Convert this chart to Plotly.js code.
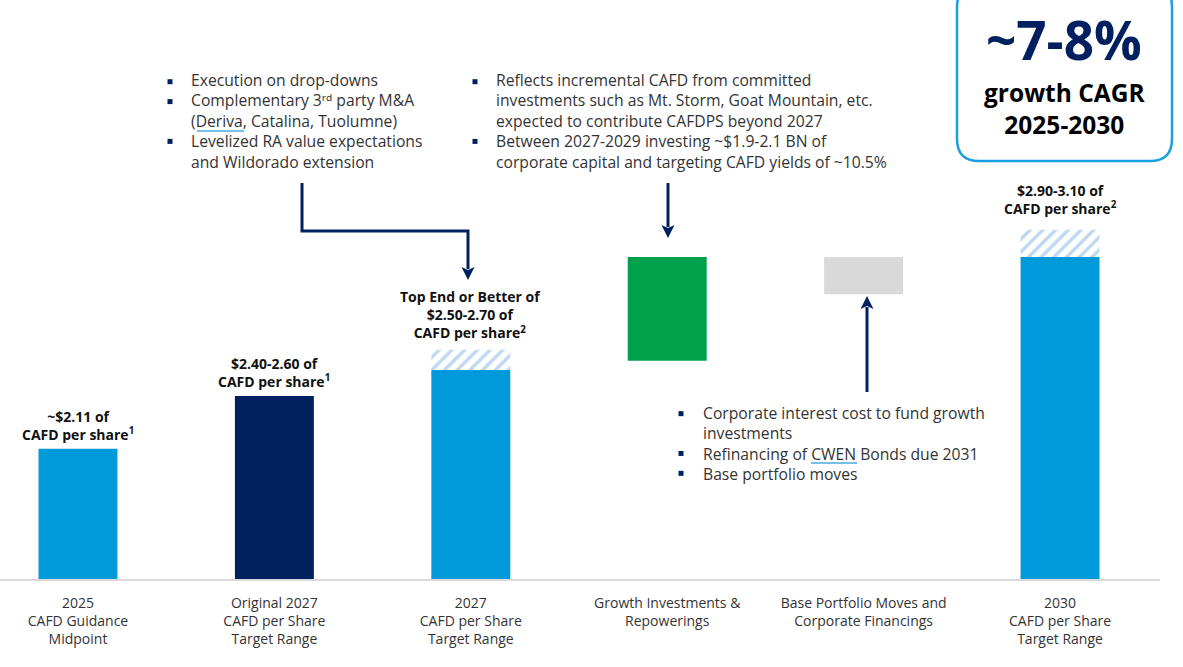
<!DOCTYPE html>
<html><head><meta charset="utf-8">
<script src="https://cdn.plot.ly/plotly-3.0.1.min.js"></script>
<style>html,body{margin:0;padding:0;background:#fff}#chart{width:1183px;height:667px}</style>
</head><body><div id="chart"></div>
<script>
// ---------- data (relative visual heights; the slide is not drawn to scale) ----------
const categories = [
  '2025<br>CAFD Guidance<br>Midpoint',
  'Original 2027<br>CAFD per Share<br>Target Range',
  '2027<br>CAFD per Share<br>Target Range',
  'Growth Investments &amp;<br>Repowerings',
  'Base Portfolio Moves and<br>Corporate Financings',
  '2030<br>CAFD per Share<br>Target Range'
];
const barBase   = [0, 0, 0, 3.77, 4.92, 0];
const barTop    = [2.25, 3.16, 3.61, 5.56, 5.56, 5.56];
const upsideTop = [null, null, 3.96, null, null, 6.03];
const barColors = ['#0099DA', '#00205E', '#0099DA', '#00A14B', '#D9D9D9', '#0099DA'];
const barLabels = [
  '~$2.11 of<br>CAFD per share<sup>1</sup>',
  '$2.40-2.60 of<br>CAFD per share<sup>1</sup>',
  'Top End or Better of<br>$2.50-2.70 of<br>CAFD per share<sup>2</sup>',
  '',
  '',
  '$2.90-3.10 of<br>CAFD per share<sup>2</sup>'
];
const dropDownNotes = [
  ['Execution on drop-downs'],
  ['Complementary 3ʳᵈ party M&amp;A', '(Deriva, Catalina, Tuolumne)'],
  ['Levelized RA value expectations', 'and Wildorado extension']
];
const growthNotes = [
  ['Reflects incremental CAFD from committed', 'investments such as Mt. Storm, Goat Mountain, etc.', 'expected to contribute CAFDPS beyond 2027'],
  ['Between 2027-2029 investing ~$1.9-2.1 BN of', 'corporate capital and targeting CAFD yields of ~10.5%']
];
const financingNotes = [
  ['Corporate interest cost to fund growth', 'investments'],
  ['Refinancing of CWEN Bonds due 2031'],
  ['Base portfolio moves']
];
const cagrHeadline = '~7-8%';
const cagrText = 'growth CAGR<br>2025-2030';

// ---------- layout helpers ----------
const W = 1183, H = 667, ML = 0, MR = 23, MT = 0, MB = 88;
const PW = W - ML - MR, PH = H - MT - MB;
const px = v => v / PW;
const py = v => 1 - v / PH;
const P = (a, b) => px(a) + ',' + py(b);
const FONT = 'Open Sans, Noto Sans, sans-serif';
const NAVY = '#002060';
const idx = categories.map((_, i) => i);

const traces = [
  {
    type: 'bar', x: idx, y: barTop.map((t, i) => t - barBase[i]), base: barBase,
    width: 0.402, marker: { color: barColors, line: { width: 0 } }, hoverinfo: 'skip'
  },
  {
    type: 'bar',
    x: idx.filter(i => upsideTop[i] !== null),
    y: idx.filter(i => upsideTop[i] !== null).map(i => upsideTop[i] - barTop[i]),
    base: idx.filter(i => upsideTop[i] !== null).map(i => barTop[i]),
    width: 0.402,
    marker: { color: '#BFD8F2', line: { width: 0 },
      pattern: { shape: '/', size: 9, solidity: 0.38, bgcolor: '#ffffff', fgcolor: '#BFD8F2' } },
    hoverinfo: 'skip'
  }
];

const annotations = [];
const shapes = [];
const NOTE_SIZE = 15.7, NOTE_LH = 19.9;
function addBlock(items, bulletX, textX, midY) {
  const lines = [], starts = [];
  items.forEach(ls => ls.forEach((l, j) => { if (j === 0) starts.push(lines.length); lines.push(l); }));
  annotations.push({ xref: 'paper', yref: 'paper', x: px(textX), y: py(midY), xanchor: 'left', yanchor: 'middle',
    align: 'left', text: lines.join('<br>'), showarrow: false, font: { family: FONT, size: NOTE_SIZE, color: '#333333' } });
  const n = lines.length;
  starts.forEach(k => {
    const cy = midY + (k - (n - 1) / 2) * NOTE_LH;
    shapes.push({ type: 'rect', xref: 'paper', yref: 'paper', x0: px(bulletX - 2.5), x1: px(bulletX + 2.5),
      y0: py(cy - 2), y1: py(cy + 3), fillcolor: NAVY, line: { width: 0 } });
  });
}
addBlock(dropDownNotes, 170, 189, 121);
addBlock(growthNotes, 475, 494, 121);
addBlock(financingNotes, 681, 701, 443);

// bar labels
const labelShift = [3, 3, 6, 0, 0, 10];
barLabels.forEach((t, i) => {
  if (!t) return;
  annotations.push({ x: i, y: upsideTop[i] !== null ? upsideTop[i] : barTop[i], xref: 'x', yref: 'y',
    yanchor: 'bottom', xanchor: 'center', yshift: labelShift[i], text: t, showarrow: false, align: 'center',
    font: { family: FONT, size: 14, color: '#111111', weight: 'bold' } });
});

// CAGR box text
annotations.push({ xref: 'paper', yref: 'paper', x: px(1064), y: py(40), xanchor: 'center', yanchor: 'middle',
  text: cagrHeadline, showarrow: false, font: { family: FONT, size: 53, color: NAVY, weight: 'bold' } });
annotations.push({ xref: 'paper', yref: 'paper', x: px(1064), y: py(108), xanchor: 'center', yanchor: 'middle',
  text: cagrText, showarrow: false, align: 'center', font: { family: FONT, size: 24.5, color: '#000000', weight: 'bold' } });

// box path with rounded corners
const bx0 = 957, bx1 = 1172, by0 = -15, by1 = 161, r = 22;
const boxPath = 'M' + P(bx0 + r, by0) + ' L' + P(bx1 - r, by0) + ' Q' + P(bx1, by0) + ' ' + P(bx1, by0 + r) +
  ' L' + P(bx1, by1 - r) + ' Q' + P(bx1, by1) + ' ' + P(bx1 - r, by1) +
  ' L' + P(bx0 + r, by1) + ' Q' + P(bx0, by1) + ' ' + P(bx0, by1 - r) +
  ' L' + P(bx0, by0 + r) + ' Q' + P(bx0, by0) + ' ' + P(bx0 + r, by0) + ' Z';
shapes.push({ type: 'path', xref: 'paper', yref: 'paper', path: boxPath, line: { color: '#1B9FE0', width: 2.5 }, fillcolor: 'rgba(0,0,0,0)' });

// arrows: stems + heads
function head(x, tipY, dir) { // dir: +1 pointing down, -1 pointing up
  const b = tipY - dir * 13, notch = tipY - dir * 10;
  return { type: 'path', xref: 'paper', yref: 'paper', fillcolor: NAVY, line: { width: 0 },
    path: 'M' + P(x - 6.5, b) + ' L' + P(x, tipY) + ' L' + P(x + 6.5, b) + ' L' + P(x, notch) + ' Z' };
}
const stem = (path) => ({ type: 'path', xref: 'paper', yref: 'paper', path: path, line: { color: NAVY, width: 3 } });
shapes.push(stem('M' + P(302, 183) + ' L' + P(302, 231) + ' L' + P(468, 231) + ' L' + P(468, 269)));
shapes.push(head(468, 280, 1));
shapes.push(stem('M' + P(668, 183) + ' L' + P(668, 227)));
shapes.push(head(668, 238, 1));
shapes.push(stem('M' + P(867, 392) + ' L' + P(867, 307)));
shapes.push(head(867, 296, -1));

// link-style underlines
shapes.push({ type: 'line', xref: 'paper', yref: 'paper', x0: px(197), x1: px(244), y0: py(131), y1: py(131), line: { color: '#4AA8E0', width: 1.5 } });
shapes.push({ type: 'line', xref: 'paper', yref: 'paper', x0: px(811), x1: px(857), y0: py(463), y1: py(463), line: { color: '#4AA8E0', width: 1.5 } });

const layout = {
  width: W, height: H, margin: { l: ML, r: MR, t: MT, b: MB },
  paper_bgcolor: '#ffffff', plot_bgcolor: '#ffffff', showlegend: false, barmode: 'overlay',
  xaxis: { range: [-0.397, 5.509], tickvals: idx, ticktext: categories, showline: true, linecolor: '#D9D9D9',
    linewidth: 2, showgrid: false, zeroline: false, ticks: '', ticklabelstandoff: 10,
    tickfont: { family: FONT, size: 14, color: '#333333' }, fixedrange: true },
  yaxis: { range: [0, 10], visible: false, fixedrange: true },
  annotations: annotations, shapes: shapes, hovermode: false
};
Plotly.newPlot('chart', traces, layout, { staticPlot: true, displayModeBar: false });
</script></body></html>
